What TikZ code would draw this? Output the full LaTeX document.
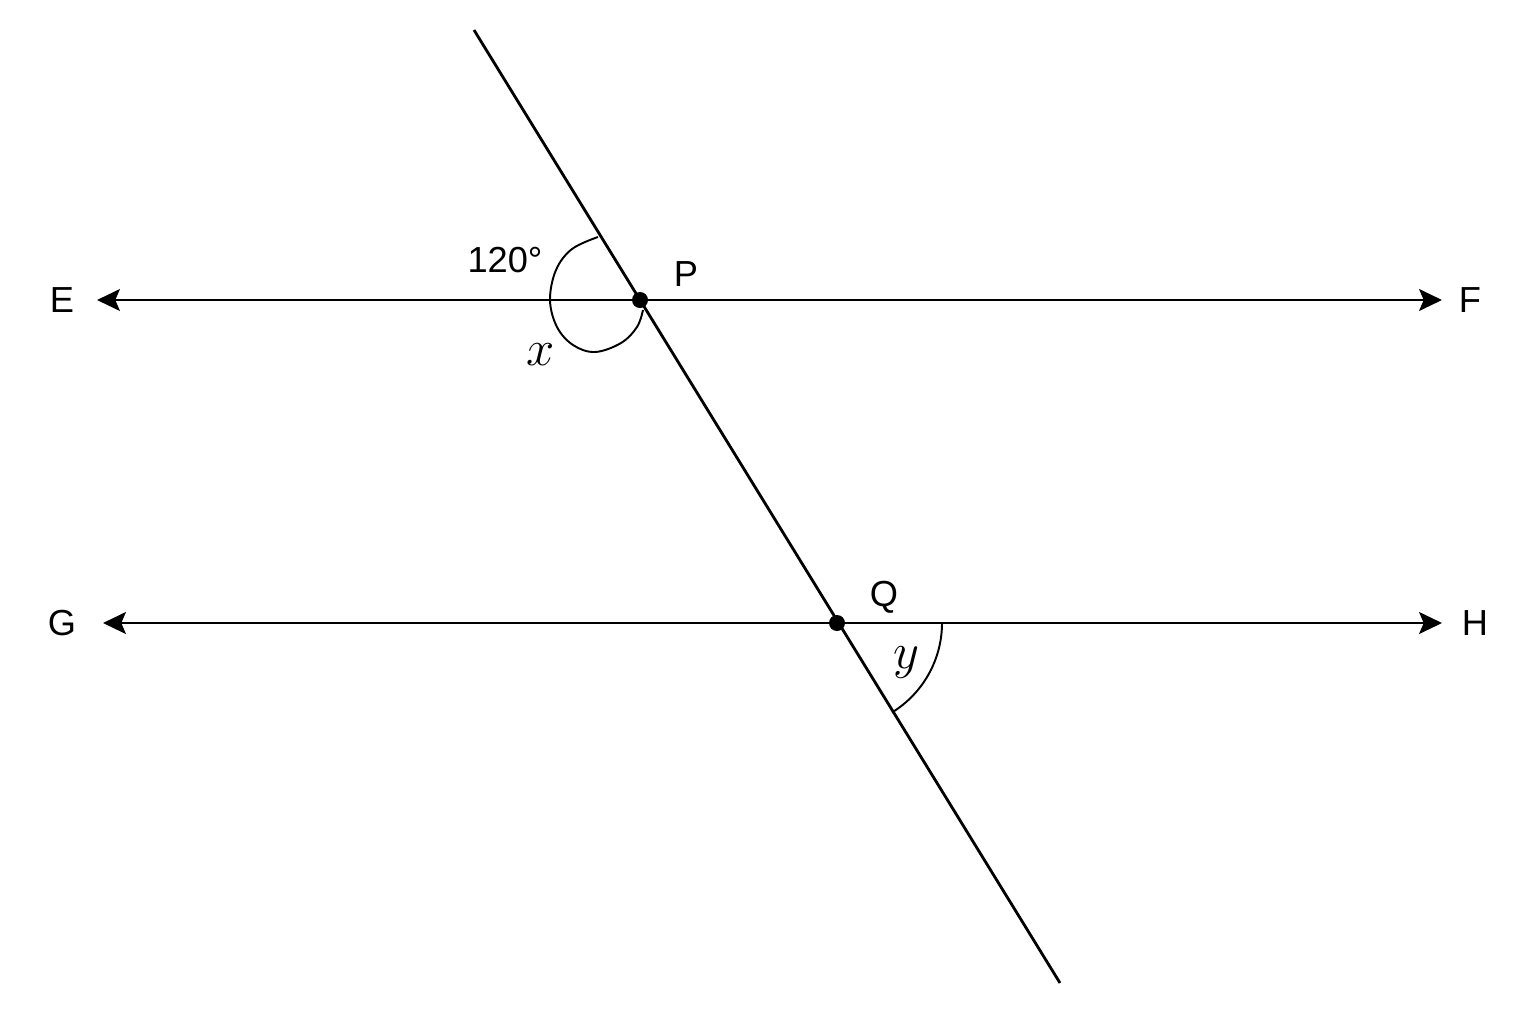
\documentclass[tikz,border=0pt]{standalone}
\usepackage{fontspec}
\setsansfont{Liberation Sans}
\usetikzlibrary{arrows.meta,calc}
\begin{document}
\begin{tikzpicture}[x=0.01cm,y=-0.01cm,
  mainline/.style={line width=0.8pt},
  arcline/.style={line width=0.55pt},
  arr/.style={-{Stealth[length=6.5pt,width=6.2pt,inset=1.3pt]}},
  lbl/.style={font=\sffamily\fontsize{10.3}{12}\selectfont, inner sep=0pt},
  mlbl/.style={font=\fontsize{13.5}{15}\selectfont, inner sep=0pt},
  dotc/.style={fill=black, circle, inner sep=0pt, minimum size=0.16cm}]
\useasboundingbox (0,0) rectangle (1536,1024);
\fill[white] (0,0) rectangle (1536,1024);
% coordinates
\coordinate (P) at (640,300);
\coordinate (Q) at (837,623);
\coordinate (T1) at (474,30);
\coordinate (T2) at (1060,983);
\coordinate (Eend) at (97,300);
\coordinate (Fend) at (1442,300);
\coordinate (Gend) at (103,623);
\coordinate (Hend) at (1442,623);
\coordinate (Qa) at (942,623);
% lines
\draw[mainline] (T1) -- (T2);
\draw[mainline, arr] (P) -- (Eend);
\draw[mainline, arr] (P) -- (Fend);
\draw[mainline, arr] (Q) -- (Gend);
\draw[mainline, arr] (Q) -- (Hend);
% angle marks
\draw[arcline] plot[smooth, tension=0.6] coordinates {(598,237) (572,249) (556,270) (550,300) (557,327) (573,345) (595,352) (621,343) (637,327) (643,310)};
\draw[arcline] (Qa) arc[start angle=0, end angle=58.4, radius=105];
% dots
\node[dotc] (Pdot) at (P) {};
\node[dotc] (Qdot) at (Q) {};
% labels
\node[lbl] (Elbl) at (62,300) {E};
\node[lbl] (Flbl) at (1470,300) {F};
\node[lbl] (Glbl) at (62,623) {G};
\node[lbl] (Hlbl) at (1475,623) {H};
\node[lbl] (Plbl) at (686,274) {P};
\node[lbl] (Qlbl) at (884,597) {Q};
\node[lbl] (ang) at (505,260) {120°};
\node[mlbl] (xl) at (541,355) {$x$};
\node[mlbl] (yl) at (906,663) {$y$};
\end{tikzpicture}
\end{document}
